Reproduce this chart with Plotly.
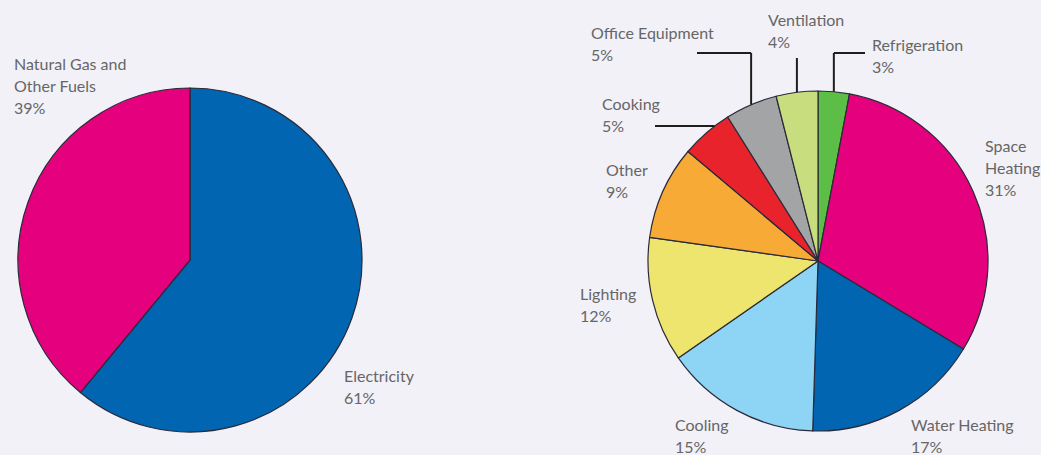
import math
import plotly.graph_objects as go

W, H = 1041, 455

# ---- data ----
left_labels = ["Electricity", "Natural Gas and Other Fuels"]
left_values = [61, 39]
left_colors = ["#0265B2", "#E5007D"]

right_labels = ["Refrigeration", "Space Heating", "Water Heating", "Cooling", "Lighting",
                "Other", "Cooking", "Office Equipment", "Ventilation"]
right_values = [3, 31, 17, 15, 12, 9, 5, 5, 4]
right_colors = ["#5DBE47", "#E5007D", "#0265B2", "#8ED4F4", "#EEE56E",
                "#F8AA37", "#E8232B", "#A3A4A6", "#C8DE7E"]

# label text lines (name lines + percentage) and their top-left anchor (px)
label_lines = {
    "Natural Gas and Other Fuels": ["Natural Gas and", "Other Fuels"],
    "Electricity": ["Electricity"],
    "Space Heating": ["Space", "Heating"],
    "Water Heating": ["Water Heating"],
}
label_pos = {
    "Natural Gas and Other Fuels": (12, 52),
    "Electricity": (342, 364),
    "Refrigeration": (870, 33),
    "Space Heating": (983, 134),
    "Water Heating": (909, 413),
    "Cooling": (673, 413),
    "Lighting": (578, 282),
    "Other": (604, 158),
    "Cooking": (600, 92),
    "Office Equipment": (589, 21),
    "Ventilation": (766, 8),
}

# pie geometry (px)
LC, LR = (190, 260), 172
RC, RR = (818, 261), 170


def dom(c, r):
    return dict(x=[(c[0] - r) / W, (c[0] + r) / W],
                y=[(H - c[1] - r) / H, (H - c[1] + r) / H])


fig = go.Figure()
fig.add_trace(go.Pie(labels=left_labels, values=left_values, sort=False,
                     direction="clockwise", rotation=0, textinfo="none",
                     hoverinfo="label+percent",
                     marker=dict(colors=left_colors, line=dict(color="#2a2a3a", width=1.2)),
                     domain=dom(LC, LR), showlegend=False))
fig.add_trace(go.Pie(labels=right_labels, values=right_values, sort=False,
                     direction="clockwise", rotation=0, textinfo="none",
                     hoverinfo="label+percent",
                     marker=dict(colors=right_colors, line=dict(color="#2a2a3a", width=1.2)),
                     domain=dom(RC, RR), showlegend=False))

annotations = []
LS = 22
for labels, values in ((left_labels, left_values), (right_labels, right_values)):
    for lab, v in zip(labels, values):
        lines = label_lines.get(lab, [lab]) + [f"{v}%"]
        x0, y0 = label_pos[lab]
        for i, t in enumerate(lines):
            annotations.append(dict(
                x=x0 / W, y=1 - (y0 + i * LS) / H, xref="paper", yref="paper",
                xanchor="left", yanchor="top", text=t, showarrow=False,
                font=dict(family="Lato", size=16, color="#666666")))


def edge_point(idx, frac=0.5):
    tot = sum(right_values)
    cum = sum(right_values[:idx]) + right_values[idx] * frac
    a = cum / tot * 2 * math.pi
    return RC[0] + RR * math.sin(a), RC[1] - RR * math.cos(a)


def px(x, y):
    return x / W, 1 - y / H


shapes = []


def seg(p, q):
    (x0, y0), (x1, y1) = px(*p), px(*q)
    shapes.append(dict(type="line", xref="paper", yref="paper", x0=x0, y0=y0,
                       x1=x1, y1=y1, line=dict(color="#1e1e1e", width=2)))


# Office Equipment
ox, oy = edge_point(right_labels.index("Office Equipment"))
seg((697, 53), (ox, 53)); seg((ox, 53), (ox, oy))
# Ventilation
vx, vy = edge_point(right_labels.index("Ventilation"))
seg((vx, 58), (vx, vy))
# Refrigeration
rx, ry = edge_point(right_labels.index("Refrigeration"))
seg((865, 53), (rx, 53)); seg((rx, 53), (rx, ry))
# Cooking
cx, cy = edge_point(right_labels.index("Cooking"), 0.7)
seg((655, cy), (cx, cy))

fig.update_layout(width=W, height=H, margin=dict(l=0, r=0, t=0, b=0),
                  paper_bgcolor="#F2F1F8", plot_bgcolor="#F2F1F8",
                  annotations=annotations, shapes=shapes)
fig.write_html("out.html")
